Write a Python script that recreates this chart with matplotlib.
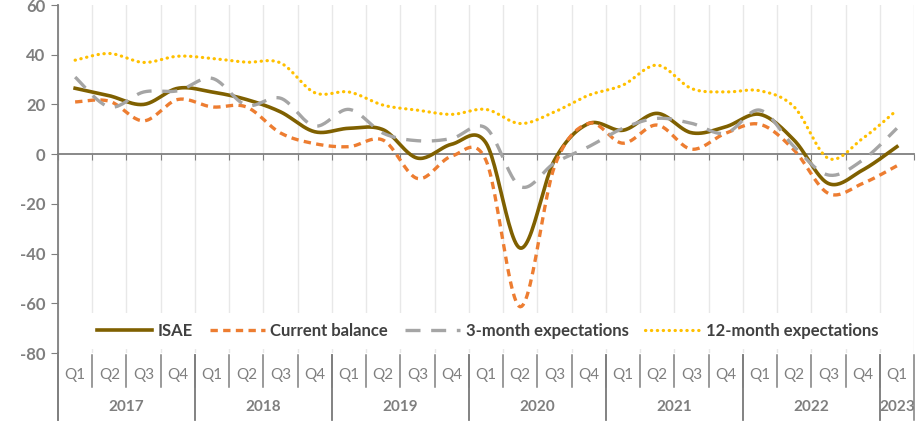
import numpy as np
import matplotlib.pyplot as plt
from matplotlib.lines import Line2D

quarters = ["Q1", "Q2", "Q3", "Q4"] * 6 + ["Q1"]
years = ["2017", "2018", "2019", "2020", "2021", "2022", "2023"]
year_len = [4, 4, 4, 4, 4, 4, 1]

isae = [26.5, 23.5, 20.0, 26.5, 25.0, 22.0, 17.0, 9.0,
        10.4, 9.8, -1.6, 4.0, 4.5, -37.8, -2.4, 12.3,
        9.6, 16.4, 8.6, 11.0, 16.0, 5.6, -11.8, -6.4, 3.0]
current = [21.0, 21.3, 13.4, 22.0, 19.0, 19.0, 8.5, 4.2,
           3.0, 5.6, -9.8, -0.8, -2.5, -61.4, -5.0, 12.4,
           4.4, 11.7, 2.0, 8.4, 12.0, 1.6, -15.8, -11.8, -4.7]
exp3 = [31.0, 19.0, 25.0, 25.5, 30.5, 19.7, 22.5, 11.3,
        18.0, 8.4, 5.4, 6.3, 10.5, -13.0, -3.6, 3.0,
        10.4, 14.4, 12.4, 8.4, 17.7, 3.0, -8.4, -2.4, 10.4]
exp12 = [37.8, 40.5, 36.9, 39.4, 38.5, 37.0, 36.7, 24.7,
         25.0, 19.7, 17.7, 16.0, 18.0, 12.3, 17.0, 23.7,
         27.8, 35.8, 26.4, 25.0, 25.5, 19.0, -1.7, 6.3, 17.7]


def smooth(y, n=24):
    # Excel-style smoothed line: Bezier through points, controls from neighbours
    p = np.column_stack([np.arange(len(y)), y]).astype(float)
    pts = []
    for i in range(len(p) - 1):
        p0 = p[max(i - 1, 0)]
        p1 = p[i]
        p2 = p[i + 1]
        p3 = p[min(i + 2, len(p) - 1)]
        c1 = p1 + (p2 - p0) / 6
        c2 = p2 - (p3 - p1) / 6
        t = np.linspace(0, 1, n, endpoint=False)[:, None]
        seg = ((1 - t) ** 3) * p1 + 3 * ((1 - t) ** 2) * t * c1 + 3 * (1 - t) * t ** 2 * c2 + t ** 3 * p2
        pts.append(seg)
    pts.append(p[-1:])
    pts = np.vstack(pts)
    return pts[:, 0], pts[:, 1]


plt.rcParams['font.family'] = ['Lato', 'DejaVu Sans']
plt.rcParams['axes.unicode_minus'] = False
gray = '#7f7f7f'

fig = plt.figure(figsize=(9.21, 4.22), dpi=100)
ax = fig.add_axes([58 / 921, 1 - 353 / 422, 856 / 921, 348 / 422])

styles = [
    (isae, 'ISAE', dict(color='#7f6000', lw=2.6, ls='-')),
    (current, 'Current balance', dict(color='#ed7d31', lw=2.4, ls=(0, (2.2, 1.6)))),
    (exp3, '3-month expectations', dict(color='#a5a5a5', lw=2.4, ls=(0, (4.5, 3.2)))),
    (exp12, '12-month expectations', dict(color='#ffc000', lw=2.3, ls=(0, (0.1, 1.75)), dash_capstyle='round')),
]
for vals, lab, st in styles:
    xs, ys = smooth(vals)
    ax.plot(xs, ys, label=lab, zorder=3, **st)

n = len(quarters)
ax.set_xlim(-0.5, n - 0.5)
ax.set_ylim(-80, 60)
ax.set_yticks(range(-80, 61, 20))
ax.tick_params(axis='y', length=5, color=gray, labelsize=12, labelcolor=gray, pad=4)
for t in ax.get_yticklabels():
    t.set_fontweight('bold')

ax.set_xticks(np.arange(-0.5, n, 1.0))
ax.set_xticklabels([])
ax.tick_params(axis='x', length=4, color=gray, direction='out')
ax.grid(axis='x', color='#e8e8e8', lw=1, zorder=0)
ax.spines['bottom'].set_position(('data', 0))
ax.spines['bottom'].set_color(gray)
ax.spines['bottom'].set_linewidth(1.3)
ax.spines['left'].set_color(gray)
ax.spines['left'].set_linewidth(1.3)
ax.spines['top'].set_visible(False)
ax.spines['right'].set_visible(False)

# two-level category axis below the plot
tr = ax.get_xaxis_transform()
for i, q in enumerate(quarters):
    ax.text(i, -0.063, q, transform=tr, ha='center', va='center', fontsize=11,
            color=gray, clip_on=False)
    if i > 0:
        ax.add_line(Line2D([i - 0.5, i - 0.5], [-0.006, -0.098], transform=tr,
                           color=gray, lw=1.1, clip_on=False))
start = 0
for yr, ln in zip(years, year_len):
    ax.text(start + (ln - 1) / 2, -0.155, yr, transform=tr, ha='center', va='center',
            fontsize=11, fontweight='bold', color=gray, clip_on=False)
    for b in (start - 0.5, start + ln - 0.5):
        ax.add_line(Line2D([b, b], [-0.006, -0.193], transform=tr,
                           color=gray, lw=1.1, clip_on=False))
    start += ln
ax.add_line(Line2D([-0.5, -0.5], [0, -0.193], transform=tr, color=gray, lw=1.3, clip_on=False))

leg = ax.legend(loc='center', bbox_to_anchor=(0.502, 0.063), ncol=4, frameon=True,
                fancybox=False, edgecolor='none', facecolor='white', framealpha=1,
                handlelength=3.3, columnspacing=1.0, handletextpad=0.35,
                prop=dict(weight='bold', size=12), borderpad=0.6)
for t in leg.get_texts():
    t.set_color('#404040')
leg.set_zorder(2)

fig.savefig('out.png', dpi=100)
